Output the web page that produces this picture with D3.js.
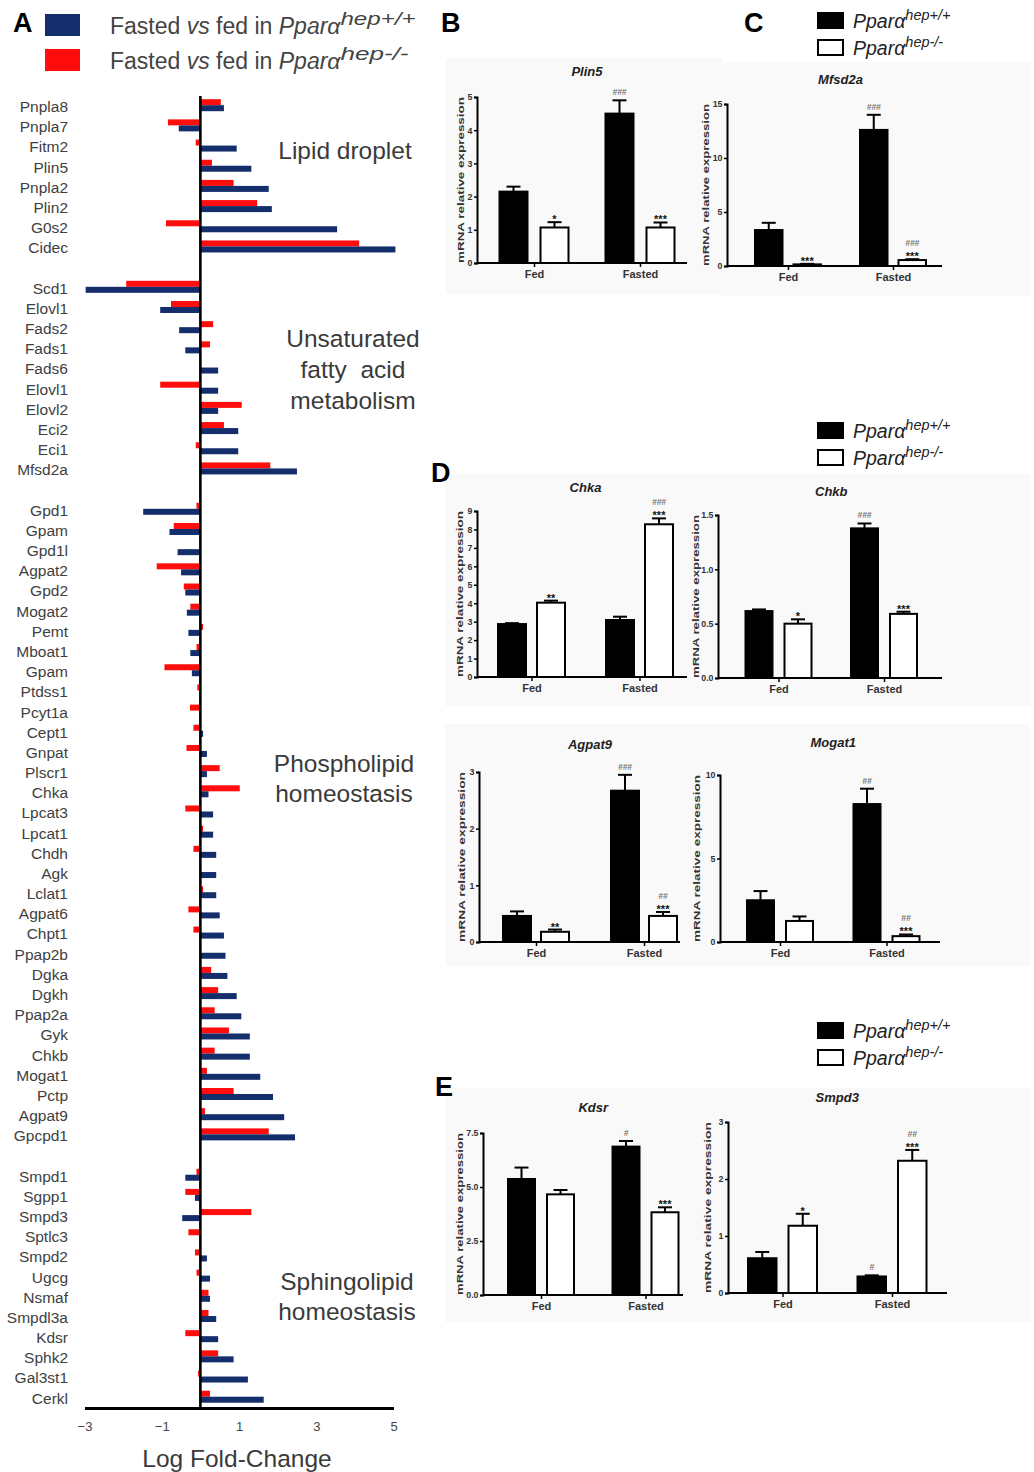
<!DOCTYPE html>
<html><head><meta charset="utf-8">
<script src="https://cdn.jsdelivr.net/npm/d3@7"></script>
<style>body{margin:0;background:#fff} svg{display:block;font-family:"Liberation Sans",Arial,sans-serif}</style>
</head><body><svg id="fig" width="1034" height="1472"></svg>
<script>
// ================= DATA =================
// Panel A : log fold-change (fasted vs fed)
const axisTicksA = [-3, -1, 1, 3, 5];
const lipidGenes = ["Pnpla8","Pnpla7","Fitm2","Plin5","Pnpla2","Plin2","G0s2","Cidec"];
const lipidWT = [0.61,-0.56,0.94,1.32,1.77,1.85,3.54,5.05];
const lipidKO = [0.53,-0.84,-0.12,0.30,0.86,1.47,-0.89,4.11];
const ufaGenes = ["Scd1","Elovl1","Fads2","Fads1","Fads6","Elovl1","Elovl2","Eci2","Eci1","Mfsd2a"];
const ufaWT = [-2.97,-1.04,-0.55,-0.39,0.46,0.46,0.46,0.98,0.98,2.50];
const ufaKO = [-1.92,-0.76,0.33,0.25,0,-1.04,1.07,0.61,-0.12,1.81];
const phosGenes = ["Gpd1","Gpam","Gpd1l","Agpat2","Gpd2","Mogat2","Pemt","Mboat1","Gpam","Ptdss1","Pcyt1a","Cept1","Gnpat","Plscr1","Chka","Lpcat3","Lpcat1","Chdh","Agk","Lclat1","Agpat6","Chpt1","Ppap2b","Dgka","Dgkh","Ppap2a","Gyk","Chkb","Mogat1","Pctp","Agpat9","Gpcpd1"];
const phosWT = [-1.48,-0.80,-0.59,-0.50,-0.39,-0.35,-0.31,-0.26,-0.22,0,0,0.07,0.17,0.17,0.21,0.33,0.33,0.41,0.41,0.41,0.50,0.61,0.65,0.70,0.94,1.06,1.28,1.28,1.55,1.88,2.17,2.45];
const phosKO = [-0.10,-0.69,0,-1.13,-0.43,-0.26,0.07,-0.10,-0.93,-0.08,-0.27,-0.18,-0.36,0.50,1.02,-0.39,0.07,-0.18,0,0.07,-0.31,-0.18,0,0.28,0.46,0.37,0.74,0.37,0.17,0.86,0.12,1.77];
const sphGenes = ["Smpd1","Sgpp1","Smpd3","Sptlc3","Smpd2","Ugcg","Nsmaf","Smpdl3a","Kdsr","Sphk2","Gal3st1","Cerkl"];
const sphWT = [-0.39,-0.14,-0.47,0,0.17,0.25,0.25,0.41,0.46,0.86,1.23,1.64];
const sphKO = [-0.10,-0.39,1.32,-0.31,-0.14,-0.10,0.21,0.21,-0.39,0.46,-0.06,0.25];
const groupTitles = [["Lipid droplet"],["Unsaturated","fatty  acid","metabolism"],["Phospholipid","homeostasis"],["Sphingolipid","homeostasis"]];

// Panels B-E : mRNA relative expression (mean, SEM)
const conditions = ["Fed","Fasted"];
const plin5WT = [2.15, 4.50], plin5WTErr = [0.15, 0.40], plin5KO = [1.07, 1.07], plin5KOErr = [0.16, 0.15];
const plin5Stars = ["*","***"], plin5WTHash = ["","###"], plin5KOHash = ["",""];
const mfsd2aWT = [3.33, 12.6], mfsd2aWTErr = [0.67, 1.4], mfsd2aKO = [0.15, 0.55], mfsd2aKOErr = [0.05, 0.08];
const mfsd2aStars = ["***","***"], mfsd2aWTHash = ["","###"], mfsd2aKOHash = ["","###"];
const chkaWT = [2.87, 3.09], chkaWTErr = [0.05, 0.18], chkaKO = [4.03, 8.28], chkaKOErr = [0.11, 0.32];
const chkaStars = ["**","***"], chkaWTHash = ["",""], chkaKOHash = ["","###"];
const chkbWT = [0.616, 1.377], chkbWTErr = [0.015, 0.045], chkbKO = [0.50, 0.59], chkbKOErr = [0.04, 0.02];
const chkbStars = ["*","***"], chkbWTHash = ["","###"], chkbKOHash = ["",""];
const agpat9WT = [0.46, 2.67], agpat9WTErr = [0.08, 0.28], agpat9KO = [0.18, 0.46], agpat9KOErr = [0.04, 0.07];
const agpat9Stars = ["**","***"], agpat9WTHash = ["","###"], agpat9KOHash = ["","##"];
const mogat1WT = [2.5, 8.26], mogat1WTErr = [0.55, 0.92], mogat1KO = [1.26, 0.35], mogat1KOErr = [0.27, 0.1];
const mogat1Stars = ["","***"], mogat1WTHash = ["","##"], mogat1KOHash = ["","##"];
const kdsrWT = [5.37, 6.87], kdsrWTErr = [0.53, 0.26], kdsrKO = [4.66, 3.83], kdsrKOErr = [0.2, 0.23];
const kdsrStars = ["","***"], kdsrWTHash = ["","#"], kdsrKOHash = ["",""];
const smpd3WT = [0.61, 0.29], smpd3WTErr = [0.11, 0.02], smpd3KO = [1.18, 2.32], smpd3KOErr = [0.21, 0.19];
const smpd3Stars = ["*","***"], smpd3WTHash = ["","#"], smpd3KOHash = ["","##"];

// ================= DRAWING =================
const svg = d3.select("#fig");
svg.append("rect").attr("width",1034).attr("height",1472).attr("fill","#fff");
const BLUE = "#142d6b", RED = "#ff0d0d", TXT = "#3a3a3a";

// ---------- Panel A ----------
const groupsA = [
  {key:"lip", genes:lipidGenes, wt:lipidWT, ko:lipidKO},
  {key:"ufa", genes:ufaGenes, wt:ufaWT, ko:ufaKO},
  {key:"pho", genes:phosGenes, wt:phosWT, ko:phosKO},
  {key:"sph", genes:sphGenes, wt:sphWT, ko:sphKO}
];
const rows = [];
groupsA.forEach((g, gi) => {
  if (gi > 0) rows.push({id:"gap"+gi, gap:true});
  g.genes.forEach((name, i) => rows.push({id:g.key+i, name, wt:g.wt[i], ko:g.ko[i]}));
});
const geneRows = rows.filter(r => !r.gap);
const yA = d3.scaleBand().domain(rows.map(r => r.id)).range([96.6, 1408.3]);
const xA = d3.scaleLinear().domain([-3, 5]).range([84.5, 393.5]);
const gA = svg.append("g");
const cy = r => yA(r.id) + yA.bandwidth()/2;
const bh = 6;
gA.selectAll("rect.ko").data(geneRows).join("rect").attr("class","ko")
  .attr("x", d => xA(Math.min(0, d.ko))).attr("width", d => Math.abs(xA(d.ko) - xA(0)))
  .attr("y", d => cy(d) - 1.5 - bh).attr("height", bh).attr("fill", RED);
gA.selectAll("rect.wt").data(geneRows).join("rect").attr("class","wt")
  .attr("x", d => xA(Math.min(0, d.wt))).attr("width", d => Math.abs(xA(d.wt) - xA(0)))
  .attr("y", d => cy(d) - 1.5).attr("height", bh).attr("fill", BLUE);
gA.selectAll("text.gene").data(geneRows).join("text").attr("class","gene")
  .attr("x", 68).attr("y", d => cy(d)).attr("dy","0.35em").attr("text-anchor","end")
  .attr("font-size", 15.5).attr("fill", "#404040").text(d => d.name);
// zero line
gA.append("line").attr("x1", xA(0)).attr("x2", xA(0)).attr("y1", 96).attr("y2", 1408)
  .attr("stroke","#000").attr("stroke-width",2.6);
// x axis
const axA = gA.append("g").attr("transform","translate(0,1408)")
  .call(d3.axisBottom(xA).tickValues(axisTicksA).tickSize(0).tickPadding(14).tickFormat(d3.format("d")));
axA.select(".domain").attr("stroke","#000").attr("stroke-width",3);
axA.selectAll("text").attr("font-size",13).attr("fill","#444").attr("font-family","Liberation Sans, Arial");
gA.append("text").attr("x",237).attr("y",1467).attr("text-anchor","middle")
  .attr("font-size",24.5).attr("fill",TXT).text("Log Fold-Change");
// group titles
const titlePos = [{x:345, y:[159]}, {x:353, y:[347,378,409]}, {x:344, y:[772,802]}, {x:347, y:[1290,1320]}];
groupTitles.forEach((lines, i) => lines.forEach((t, j) =>
  gA.append("text").attr("x", titlePos[i].x).attr("y", titlePos[i].y[j]).attr("text-anchor","middle")
    .attr("font-size",24.5).attr("fill",TXT).attr("xml:space","preserve").text(t)));
// legend A
gA.append("text").attr("x",13).attr("y",32).attr("font-size",27).attr("font-weight","bold").text("A");
const legA = [{c:BLUE, s:"hep+/+", y:14, w:75}, {c:RED, s:"hep-/-", y:49, w:68}];
legA.forEach(l => {
  gA.append("rect").attr("x",45).attr("y",l.y).attr("width",35).attr("height",22).attr("fill",l.c);
  const t = gA.append("text").attr("x",110).attr("y",l.y+20).attr("font-size",23).attr("fill","#444");
  t.append("tspan").text("Fasted ");
  t.append("tspan").attr("font-style","italic").text("vs");
  t.append("tspan").text(" fed in ");
  t.append("tspan").attr("font-style","italic").text("Pparα");
  t.append("tspan").attr("font-style","italic").attr("font-size",18).attr("dy",-9)
    .attr("textLength", l.w).attr("lengthAdjust","spacingAndGlyphs").text(l.s);
});

// ---------- Bar chart panels ----------
const bgRects = [[445,58,277,236],[722,62,308,234],[445,474,585,232],[445,724,585,242],[445,1088,585,234]];
bgRects.forEach(b => svg.append("rect").attr("x",b[0]).attr("y",b[1]).attr("width",b[2]).attr("height",b[3]).attr("fill","#f9f9f9"));

function barChart(L, wt, wtErr, ko, koErr, stars, wtHash, koHash) {
  const g = svg.append("g");
  const y = d3.scaleLinear().domain([0, L.max]).range([L.y0, L.yTop]);
  const x = d3.scalePoint().domain(conditions).range(L.centers);
  const inner = d3.scaleBand().domain(["wt","ko"]).range([-(L.bw + L.gap/2), L.bw + L.gap/2]).paddingInner(L.gap/(L.bw+L.gap));
  const data = [];
  conditions.forEach((c, i) => {
    data.push({c, s:"wt", v:wt[i], e:wt[i]+wtErr[i], star:"", hash:wtHash[i]});
    data.push({c, s:"ko", v:ko[i], e:ko[i]+koErr[i], star:stars[i], hash:koHash[i]});
  });
  const bx = d => x(d.c) + inner(d.s);
  const bw = inner.bandwidth();
  // error bars
  g.selectAll("line.err").data(data).join("line").attr("class","err")
    .attr("x1", d => bx(d) + bw/2).attr("x2", d => bx(d) + bw/2)
    .attr("y1", d => y(d.v)).attr("y2", d => y(d.e)).attr("stroke","#000").attr("stroke-width",2);
  g.selectAll("line.cap").data(data).join("line").attr("class","cap")
    .attr("x1", d => bx(d) + bw/2 - 7).attr("x2", d => bx(d) + bw/2 + 7)
    .attr("y1", d => y(d.e)).attr("y2", d => y(d.e)).attr("stroke","#000").attr("stroke-width",2);
  // bars
  g.selectAll("rect.bar").data(data).join("rect").attr("class","bar")
    .attr("x", d => bx(d)).attr("width", bw)
    .attr("y", d => y(d.v)).attr("height", d => y(0) - y(d.v))
    .attr("fill", d => d.s === "wt" ? "#000" : "#fff").attr("stroke","#000").attr("stroke-width",2);
  // significance marks
  g.selectAll("text.star").data(data.filter(d => d.star)).join("text").attr("class","star")
    .attr("x", d => bx(d) + bw/2).attr("y", d => y(d.e) + 1).attr("text-anchor","middle")
    .attr("font-size",11).attr("font-weight","bold").attr("fill","#111").text(d => d.star);
  g.selectAll("text.hash").data(data.filter(d => d.hash)).join("text").attr("class","hash")
    .attr("x", d => bx(d) + bw/2).attr("y", d => y(d.e) - (d.star ? 13 : 5)).attr("text-anchor","middle")
    .attr("font-size",8.5).attr("font-style","italic").attr("font-weight","bold").attr("fill","#777").text(d => d.hash);
  // y axis
  const ya = g.append("g").attr("transform",`translate(${L.ax},0)`)
    .call(d3.axisLeft(y).tickValues(L.ticks).tickSize(3).tickPadding(1.5).tickFormat(d3.format(L.fmt)));
  ya.select(".domain").attr("stroke","#000").attr("stroke-width",2);
  ya.selectAll(".tick line").attr("stroke","#000").attr("stroke-width",1.5);
  ya.selectAll("text").attr("font-size",8.8).attr("font-weight","bold").attr("fill","#333").attr("font-family","Liberation Sans, Arial");
  // x axis
  g.append("line").attr("x1", L.ax).attr("x2", L.end).attr("y1", L.y0).attr("y2", L.y0).attr("stroke","#000").attr("stroke-width",2);
  const xa = g.append("g").attr("transform",`translate(0,${L.y0})`)
    .call(d3.axisBottom(x).tickSize(4).tickPadding(3));
  xa.select(".domain").remove();
  xa.selectAll(".tick line").attr("stroke","#000").attr("stroke-width",1.5);
  xa.selectAll("text").attr("font-size",11).attr("font-weight","bold").attr("fill","#333").attr("font-family","Liberation Sans, Arial");
  // y label
  g.append("text").attr("transform",`translate(${L.lx},${(L.y0+L.yTop)/2}) rotate(-90)`)
    .attr("text-anchor","middle").attr("dy","0.35em").attr("font-size",9.5).attr("font-weight","bold").attr("fill","#333")
    .attr("textLength", L.y0 - L.yTop).attr("lengthAdjust","spacingAndGlyphs").text("mRNA relative expression");
  // title
  g.append("text").attr("x", (L.centers[0]+L.centers[1])/2).attr("y", L.ty).attr("text-anchor","middle")
    .attr("font-size",13).attr("font-weight","bold").attr("font-style","italic").attr("fill","#222").text(L.title);
}

barChart({ax:477,end:687,y0:263,yTop:97,max:5,ticks:[0,1,2,3,4,5],fmt:"d",centers:[534,640],bw:28,gap:13,title:"Plin5",ty:76,lx:461},
  plin5WT, plin5WTErr, plin5KO, plin5KOErr, plin5Stars, plin5WTHash, plin5KOHash);
barChart({ax:727,end:942,y0:266,yTop:104,max:15,ticks:[0,5,10,15],fmt:"d",centers:[788,893],bw:27.5,gap:11,title:"Mfsd2a",ty:84,lx:706},
  mfsd2aWT, mfsd2aWTErr, mfsd2aKO, mfsd2aKOErr, mfsd2aStars, mfsd2aWTHash, mfsd2aKOHash);
barChart({ax:477,end:687,y0:677,yTop:511,max:9,ticks:[0,1,2,3,4,5,6,7,8,9],fmt:"d",centers:[531.5,639.5],bw:28,gap:11,title:"Chka",ty:492,lx:460},
  chkaWT, chkaWTErr, chkaKO, chkaKOErr, chkaStars, chkaWTHash, chkaKOHash);
barChart({ax:718,end:942,y0:678,yTop:515,max:1.5,ticks:[0,0.5,1,1.5],fmt:".1f",centers:[778.5,884],bw:27,gap:12,title:"Chkb",ty:496,lx:696},
  chkbWT, chkbWTErr, chkbKO, chkbKOErr, chkbStars, chkbWTHash, chkbKOHash);
barChart({ax:479,end:680,y0:942,yTop:772,max:3,ticks:[0,1,2,3],fmt:"d",centers:[536,644],bw:28,gap:10,title:"Agpat9",ty:749,lx:462},
  agpat9WT, agpat9WTErr, agpat9KO, agpat9KOErr, agpat9Stars, agpat9WTHash, agpat9KOHash);
barChart({ax:720,end:940,y0:942,yTop:775,max:10,ticks:[0,5,10],fmt:"d",centers:[780,886.5],bw:27,gap:12,title:"Mogat1",ty:747,lx:697},
  mogat1WT, mogat1WTErr, mogat1KO, mogat1KOErr, mogat1Stars, mogat1WTHash, mogat1KOHash);
barChart({ax:483,end:683,y0:1295,yTop:1133,max:7.5,ticks:[0,2.5,5,7.5],fmt:".1f",centers:[541,645.5],bw:27,gap:12,title:"Kdsr",ty:1112,lx:460},
  kdsrWT, kdsrWTErr, kdsrKO, kdsrKOErr, kdsrStars, kdsrWTHash, kdsrKOHash);
barChart({ax:728,end:947,y0:1293,yTop:1122,max:3,ticks:[0,1,2,3],fmt:"d",centers:[782.5,892],bw:28.5,gap:12,title:"Smpd3",ty:1102,lx:708},
  smpd3WT, smpd3WTErr, smpd3KO, smpd3KOErr, smpd3Stars, smpd3WTHash, smpd3KOHash);

// panel letters
[["B",441,32],["C",744,32],["D",431,482],["E",435,1096]].forEach(p =>
  svg.append("text").attr("x",p[1]).attr("y",p[2]).attr("font-size",27).attr("font-weight","bold").text(p[0]));

// genotype legends (B/C, D, E)
const genoLabels = ["hep+/+","hep-/-"];
[13, 423, 1023].forEach(top => {
  genoLabels.forEach((s, i) => {
    const yy = top + i*27;
    svg.append("rect").attr("x",818).attr("y",yy).attr("width",25).attr("height",15)
      .attr("fill", i === 0 ? "#000" : "#fff").attr("stroke","#000").attr("stroke-width",2);
    const t = svg.append("text").attr("x",853).attr("y",yy+15).attr("font-size",19.5).attr("font-style","italic").attr("fill","#222");
    t.append("tspan").text("Pparα");
    t.append("tspan").attr("font-size",14.5).attr("dy",-8).text(s);
  });
});
</script></body></html>
